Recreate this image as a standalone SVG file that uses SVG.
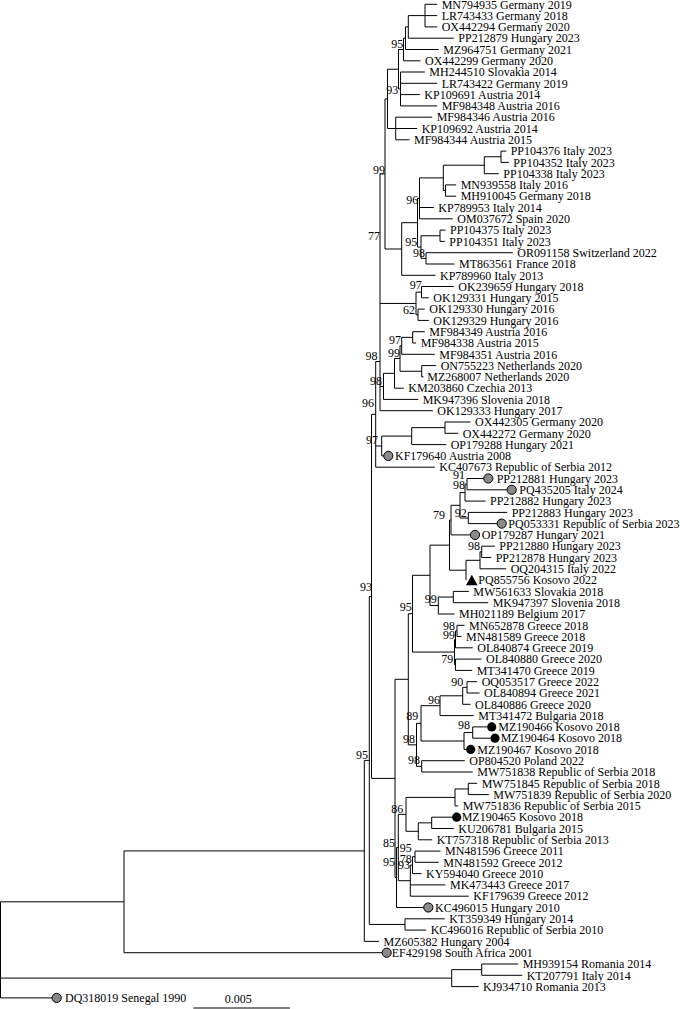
<svg xmlns="http://www.w3.org/2000/svg" width="680" height="1009" viewBox="0 0 680 1009">
<style>
.t{font-family:"Liberation Serif","Times New Roman",serif;font-size:12px;fill:#000}
.b{font-family:"Liberation Serif","Times New Roman",serif;font-size:12px;fill:#000;text-anchor:end}
.br{fill:none;stroke:#000;stroke-width:1}
.gc{fill:#8a8a8a;stroke:#000;stroke-width:1}
.kc{fill:#000}
</style>
<rect width="680" height="1009" fill="#fff"/>
<g id="connectors">
<path class="br" d="M425 4.3V26.9M425 4.3H437.2M425 15.6H437.2M425 26.9H437.2
M408.3 15.6V38.2M408.3 15.6H425M408.3 38.2H453.8
M405.5 26.9V49.5M405.5 26.9H408.3M405.5 49.5H438.8
M403.5 38.2V60.8M403.5 38.2H405.5M403.5 60.8H420.5
M400.5 72V105.9M400.5 72H424.8M400.5 83.3H437.2M400.5 94.6H419.8M400.5 105.9H437.2
M398.5 49.5V89M398.5 49.5H403.5M398.5 89H400.5
M395.7 117.2V139.8M395.7 117.2H432.2M395.7 128.5H417.2M395.7 139.8H409.5
M387.5 69.25V128.5M387.5 69.25H398.5M387.5 128.5H395.7
M501 151.1V162.4M501 151.1H506.2M501 162.4H508.8
M484.3 156.75V173.7M484.3 156.75H501M484.3 173.7H498.8
M445.5 184.9V196.2M445.5 184.9H456.2M445.5 196.2H456.2
M443.3 165.2V190.55M443.3 165.2H484.3M443.3 190.55H445.5
M419.5 177.9V218.8M419.5 177.9H443.3M419.5 207.5H433.8M419.5 218.8H452.8
M440 230.1V241.4M440 230.1H445.5M440 241.4H444.8
M426 252.7V264M426 252.7H512.8M426 264H454.5
M421 235.75V258.35M421 235.75H440M421 258.35H426
M417.5 198.35V247.05M417.5 198.35H419.5M417.5 247.05H421
M401.7 222.7V275.3M401.7 222.7H417.5M401.7 275.3H435.5
M385 98.9V249M385 98.9H387.5M385 249H401.7
M421.5 286.5V297.8M421.5 286.5H453.8M421.5 297.8H428.8
M418 309.1V320.4M418 309.1H424.8M418 320.4H428.8
M416 292.15V314.75M416 292.15H421.5M416 314.75H418
M412.7 331.7V343M412.7 331.7H424.8M412.7 343H416.2
M401.7 337.35V354.3M401.7 337.35H412.7M401.7 354.3H434.8
M421.7 365.6V376.9M421.7 365.6H436.2M421.7 376.9H423.5
M400 345.8V371.25M400 345.8H401.7M400 371.25H421.7
M394.5 358.5V388.2M394.5 358.5H400M394.5 388.2H403.8
M383.5 373.35V399.4M383.5 373.35H394.5M383.5 399.4H418.2
M380 173.95V410.7M380 173.95H385M380 303.45H416M380 386.4H383.5M380 410.7H432.8
M375.7 361.5V467.2M375.7 361.5H380M375.7 446H381.7M375.7 467.2H434.8
M445 422V433.3M445 422H470.5M445 433.3H458.2
M411.7 427.65V444.6M411.7 427.65H445M411.7 444.6H446.2
M381.7 436.1V455.9M381.7 436.1H411.7M381.7 455.9H383.7
M467 478.5V489.8M467 478.5H483.7M467 489.8H507.1
M465 484.15V501.1M465 484.15H467M465 501.1H485.5
M468.3 512.4V523.6M468.3 512.4H507.2M468.3 523.6H497.1
M460 492.6V518M460 492.6H465M460 518H468.3
M451 505.3V534.9M451 505.3H460M451 534.9H470.4
M481.7 546.2V557.5M481.7 546.2H494.8M481.7 557.5H491.2
M480 551.85V568.8M480 551.85H481.7M480 568.8H506.2
M466 560.3V580.1M466 560.3H480
M449.5 520.1V570.2M449.5 520.1H451M449.5 570.2H466
M453.3 591.4V602.7M453.3 591.4H468.8M453.3 602.7H488.2
M438.3 597.05V614M438.3 597.05H453.3M438.3 614H454.5
M430 545.15V605.5M430 545.15H449.5M430 605.5H438.3
M457 625.3V636.5M457 625.3H464.5M457 636.5H461.5
M455.5 630.9V647.8M455.5 630.9H457M455.5 647.8H472.8
M455.5 659.1V670.4M455.5 659.1H481.5M455.5 670.4H472.2
M454.5 639.35V664.75M454.5 639.35H455.5M454.5 664.75H455.5
M412.5 575.3V652.05M412.5 575.3H430M412.5 652.05H454.5
M467 681.7V693M467 681.7H477.2M467 693H479.5
M462.7 687.35V704.3M462.7 687.35H467M462.7 704.3H470.5
M440 695.8V715.6M440 695.8H462.7M440 715.6H473.8
M472.7 726.9V738.2M472.7 726.9H487.1M472.7 738.2H490.4
M464 732.55V749.4M464 732.55H472.7M464 749.4H466.1
M421 705.7V741M421 705.7H440M421 741H464
M421.7 760.7V772M421.7 760.7H464.8M421.7 772H472.8
M416.5 723.35V766.35M416.5 723.35H421M416.5 766.35H421.7
M408.3 613.7V744.85M408.3 613.7H412.5M408.3 744.85H416.5
M468.3 783.3V794.6M468.3 783.3H477.2M468.3 794.6H488.8
M455 788.95V805.9M455 788.95H468.3M455 805.9H458.2
M431.7 817.2V828.5M431.7 817.2H452.1M431.7 828.5H453.8
M418.3 822.85V839.8M418.3 822.85H431.7M418.3 839.8H432.2
M406 797.4V831.3M406 797.4H455M406 831.3H418.3
M415 851.1V862.3M415 851.1H440.5M415 862.3H438.8
M412.5 856.7V873.6M412.5 856.7H415M412.5 873.6H421.5
M410.3 865.15V896.2M410.3 865.15H412.5M410.3 884.9H445.5M410.3 896.2H468.8
M398.3 814.35V880.7M398.3 814.35H406M398.3 880.7H410.3
M396.5 847.5V907.5M396.5 847.5H398.3M396.5 907.5H423.7
M395 679.3V877.5M395 679.3H408.3M395 877.5H396.5
M405 918.8V930.1M405 918.8H444.8M405 930.1H426.2
M371.5 414.35V778.4M371.5 414.35H375.7M371.5 778.4H395
M369.3 596.4V924.45M369.3 596.4H371.5M369.3 924.45H405
M364.3 760.4V941.4M364.3 760.4H369.3M364.3 941.4H379
M124 850.9V952.7M124 850.9H364.3M124 952.7H382.1
M481.7 964V975.3M481.7 964H518.2M481.7 975.3H522.2
M451.7 969.65V986.6M451.7 969.65H481.7M451.7 986.6H478.5
M0.5 901.8V997.9M0.5 901.8H124M0.5 978.1H451.7M0.5 997.9H52.1"/>
</g>
<g id="bootstrap">
<text class="b" x="403.3" y="47.5">95</text>
<text class="b" x="398.3" y="94.2">93</text>
<text class="b" x="385" y="174.2">99</text>
<text class="b" x="418.3" y="204.2">96</text>
<text class="b" x="417.3" y="245.9">95</text>
<text class="b" x="425" y="256.7">98</text>
<text class="b" x="380" y="240.2">77</text>
<text class="b" x="421.7" y="288.5">97</text>
<text class="b" x="415" y="314.2">62</text>
<text class="b" x="401" y="344.2">97</text>
<text class="b" x="400" y="357.2">99</text>
<text class="b" x="377.5" y="360.2">98</text>
<text class="b" x="382" y="385.2">98</text>
<text class="b" x="374" y="406.7">96</text>
<text class="b" x="378" y="444.2">97</text>
<text class="b" x="465" y="478.7">91</text>
<text class="b" x="465" y="489.2">98</text>
<text class="b" x="466.7" y="516.9">92</text>
<text class="b" x="445" y="519.2">79</text>
<text class="b" x="480" y="550.2">98</text>
<text class="b" x="372" y="591.2">93</text>
<text class="b" x="436.7" y="602.5">99</text>
<text class="b" x="411.7" y="610.9">95</text>
<text class="b" x="455" y="629.7">98</text>
<text class="b" x="455" y="638.7">99</text>
<text class="b" x="453.3" y="662.5">79</text>
<text class="b" x="463.3" y="685.9">90</text>
<text class="b" x="440" y="703.7">96</text>
<text class="b" x="418.3" y="719.7">89</text>
<text class="b" x="470" y="729.2">98</text>
<text class="b" x="415" y="742.7">98</text>
<text class="b" x="368" y="759.2">95</text>
<text class="b" x="420" y="763.5">98</text>
<text class="b" x="403.3" y="812.5">86</text>
<text class="b" x="395" y="847.2">85</text>
<text class="b" x="411.7" y="851.7">95</text>
<text class="b" x="411.7" y="862.5">78</text>
<text class="b" x="395" y="866.2">95</text>
<text class="b" x="410" y="869.2">93</text>
</g>
<g id="n1"><text class="t" x="441.7" y="8.5">MN794935 Germany 2019</text></g>
<g id="n2"><text class="t" x="441.7" y="19.8">LR743433 Germany 2018</text></g>
<g id="n3"><text class="t" x="441.7" y="31.1">OX442294 Germany 2020</text></g>
<g id="n4"><text class="t" x="458.3" y="42.4">PP212879 Hungary 2023</text></g>
<g id="n5"><text class="t" x="443.3" y="53.7">MZ964751 Germany 2021</text></g>
<g id="n6"><text class="t" x="425" y="65">OX442299 Germany 2020</text></g>
<g id="n7"><text class="t" x="429.3" y="76.2">MH244510 Slovakia 2014</text></g>
<g id="n8"><text class="t" x="441.7" y="87.5">LR743422 Germany 2019</text></g>
<g id="n9"><text class="t" x="424.3" y="98.8">KP109691 Austria 2014</text></g>
<g id="n10"><text class="t" x="441.7" y="110.1">MF984348 Austria 2016</text></g>
<g id="n11"><text class="t" x="436.7" y="121.4">MF984346 Austria 2016</text></g>
<g id="n12"><text class="t" x="421.7" y="132.7">KP109692 Austria 2014</text></g>
<g id="n13"><text class="t" x="414" y="144">MF984344 Austria 2015</text></g>
<g id="n14"><text class="t" x="510.7" y="155.3">PP104376 Italy 2023</text></g>
<g id="n15"><text class="t" x="513.3" y="166.6">PP104352 Italy 2023</text></g>
<g id="n16"><text class="t" x="503.3" y="177.9">PP104338 Italy 2023</text></g>
<g id="n17"><text class="t" x="460.7" y="189.1">MN939558 Italy 2016</text></g>
<g id="n18"><text class="t" x="460.7" y="200.4">MH910045 Germany 2018</text></g>
<g id="n19"><text class="t" x="438.3" y="211.7">KP789953 Italy 2014</text></g>
<g id="n20"><text class="t" x="457.3" y="223">OM037672 Spain 2020</text></g>
<g id="n21"><text class="t" x="450" y="234.3">PP104375 Italy 2023</text></g>
<g id="n22"><text class="t" x="449.3" y="245.6">PP104351 Italy 2023</text></g>
<g id="n23"><text class="t" x="517.3" y="256.9">OR091158 Switzerland 2022</text></g>
<g id="n24"><text class="t" x="459" y="268.2">MT863561 France 2018</text></g>
<g id="n25"><text class="t" x="440" y="279.5">KP789960 Italy 2013</text></g>
<g id="n26"><text class="t" x="458.3" y="290.7">OK239659 Hungary 2018</text></g>
<g id="n27"><text class="t" x="433.3" y="302">OK129331 Hungary 2015</text></g>
<g id="n28"><text class="t" x="429.3" y="313.3">OK129330 Hungary 2016</text></g>
<g id="n29"><text class="t" x="433.3" y="324.6">OK129329 Hungary 2016</text></g>
<g id="n30"><text class="t" x="429.3" y="335.9">MF984349 Austria 2016</text></g>
<g id="n31"><text class="t" x="420.7" y="347.2">MF984338 Austria 2015</text></g>
<g id="n32"><text class="t" x="439.3" y="358.5">MF984351 Austria 2016</text></g>
<g id="n33"><text class="t" x="440.7" y="369.8">ON755223 Netherlands 2020</text></g>
<g id="n34"><text class="t" x="427.3" y="381.1">MZ268007 Netherlands 2020</text></g>
<g id="n35"><text class="t" x="408.3" y="392.4">KM203860 Czechia 2013</text></g>
<g id="n36"><text class="t" x="422.7" y="403.6">MK947396 Slovenia 2018</text></g>
<g id="n37"><text class="t" x="437.3" y="414.9">OK129333 Hungary 2017</text></g>
<g id="n38"><text class="t" x="475" y="426.2">OX442305 Germany 2020</text></g>
<g id="n39"><text class="t" x="462.7" y="437.5">OX442272 Germany 2020</text></g>
<g id="n40"><text class="t" x="450.7" y="448.8">OP179288 Hungary 2021</text></g>
<g id="n41"><circle class="gc" cx="388.3" cy="455.9" r="4.6"/><text class="t" x="395" y="460.1">KF179640 Austria 2008</text></g>
<g id="n42"><text class="t" x="439.3" y="471.4">KC407673 Republic of Serbia 2012</text></g>
<g id="n43"><circle class="gc" cx="488.3" cy="478.5" r="4.6"/><text class="t" x="496.7" y="482.7">PP212881 Hungary 2023</text></g>
<g id="n44"><circle class="gc" cx="511.7" cy="489.8" r="4.6"/><text class="t" x="519.3" y="494">PQ435205 Italy 2024</text></g>
<g id="n45"><text class="t" x="490" y="505.3">PP212882 Hungary 2023</text></g>
<g id="n46"><text class="t" x="511.7" y="516.6">PP212883 Hungary 2023</text></g>
<g id="n47"><circle class="gc" cx="501.7" cy="523.6" r="4.6"/><text class="t" x="508.3" y="527.8">PQ053331 Republic of Serbia 2023</text></g>
<g id="n48"><circle class="gc" cx="475" cy="534.9" r="4.6"/><text class="t" x="481.7" y="539.1">OP179287 Hungary 2021</text></g>
<g id="n49"><text class="t" x="499.3" y="550.4">PP212880 Hungary 2023</text></g>
<g id="n50"><text class="t" x="495.7" y="561.7">PP212878 Hungary 2023</text></g>
<g id="n51"><text class="t" x="510.7" y="573">OQ204315 Italy 2022</text></g>
<g id="n52"><polygon class="kc" points="466,585.2 477.6,585.2 471.8,574.8"/><text class="t" x="478.3" y="584.3">PQ855756 Kosovo 2022</text></g>
<g id="n53"><text class="t" x="473.3" y="595.6">MW561633 Slovakia 2018</text></g>
<g id="n54"><text class="t" x="492.7" y="606.9">MK947397 Slovenia 2018</text></g>
<g id="n55"><text class="t" x="459" y="618.2">MH021189 Belgium 2017</text></g>
<g id="n56"><text class="t" x="469" y="629.5">MN652878 Greece 2018</text></g>
<g id="n57"><text class="t" x="466" y="640.7">MN481589 Greece 2018</text></g>
<g id="n58"><text class="t" x="477.3" y="652">OL840874 Greece 2019</text></g>
<g id="n59"><text class="t" x="486" y="663.3">OL840880 Greece 2020</text></g>
<g id="n60"><text class="t" x="476.7" y="674.6">MT341470 Greece 2019</text></g>
<g id="n61"><text class="t" x="481.7" y="685.9">OQ053517 Greece 2022</text></g>
<g id="n62"><text class="t" x="484" y="697.2">OL840894 Greece 2021</text></g>
<g id="n63"><text class="t" x="475" y="708.5">OL840886 Greece 2020</text></g>
<g id="n64"><text class="t" x="478.3" y="719.8">MT341472 Bulgaria 2018</text></g>
<g id="n65"><circle class="kc" cx="491.7" cy="726.9" r="4.6"/><text class="t" x="498.3" y="731.1">MZ190466 Kosovo 2018</text></g>
<g id="n66"><circle class="kc" cx="495" cy="738.2" r="4.6"/><text class="t" x="500.7" y="742.4">MZ190464 Kosovo 2018</text></g>
<g id="n67"><circle class="kc" cx="470.7" cy="749.4" r="4.6"/><text class="t" x="477.3" y="753.6">MZ190467 Kosovo 2018</text></g>
<g id="n68"><text class="t" x="469.3" y="764.9">OP804520 Poland 2022</text></g>
<g id="n69"><text class="t" x="477.3" y="776.2">MW751838 Republic of Serbia 2018</text></g>
<g id="n70"><text class="t" x="481.7" y="787.5">MW751845 Republic of Serbia 2018</text></g>
<g id="n71"><text class="t" x="493.3" y="798.8">MW751839 Republic of Serbia 2020</text></g>
<g id="n72"><text class="t" x="462.7" y="810.1">MW751836 Republic of Serbia 2015</text></g>
<g id="n73"><circle class="kc" cx="456.7" cy="817.2" r="4.6"/><text class="t" x="461.7" y="821.4">MZ190465 Kosovo 2018</text></g>
<g id="n74"><text class="t" x="458.3" y="832.7">KU206781 Bulgaria 2015</text></g>
<g id="n75"><text class="t" x="436.7" y="844">KT757318 Republic of Serbia 2013</text></g>
<g id="n76"><text class="t" x="445" y="855.3">MN481596 Greece 2011</text></g>
<g id="n77"><text class="t" x="443.3" y="866.5">MN481592 Greece 2012</text></g>
<g id="n78"><text class="t" x="426" y="877.8">KY594040 Greece 2010</text></g>
<g id="n79"><text class="t" x="450" y="889.1">MK473443 Greece 2017</text></g>
<g id="n80"><text class="t" x="473.3" y="900.4">KF179639 Greece 2012</text></g>
<g id="n81"><circle class="gc" cx="428.3" cy="907.5" r="4.6"/><text class="t" x="435" y="911.7">KC496015 Hungary 2010</text></g>
<g id="n82"><text class="t" x="449.3" y="923">KT359349 Hungary 2014</text></g>
<g id="n83"><text class="t" x="430.7" y="934.3">KC496016 Republic of Serbia 2010</text></g>
<g id="n84"><text class="t" x="383.5" y="945.6">MZ605382 Hungary 2004</text></g>
<g id="n85"><circle class="gc" cx="386.7" cy="952.7" r="4.6"/><text class="t" x="391.7" y="956.9">EF429198 South Africa 2001</text></g>
<g id="n86"><text class="t" x="522.7" y="968.2">MH939154 Romania 2014</text></g>
<g id="n87"><text class="t" x="526.7" y="979.5">KT207791 Italy 2014</text></g>
<g id="n88"><text class="t" x="483" y="990.8">KJ934710 Romania 2013</text></g>
<g id="n89"><circle class="gc" cx="56.7" cy="997.9" r="4.6"/><text class="t" x="65" y="1002.1">DQ318019 Senegal 1990</text></g>
<g id="scale"><path class="br" d="M193.3 1008H290"/><text class="t" x="238.3" y="1002.5" text-anchor="middle">0.005</text></g>
</svg>
